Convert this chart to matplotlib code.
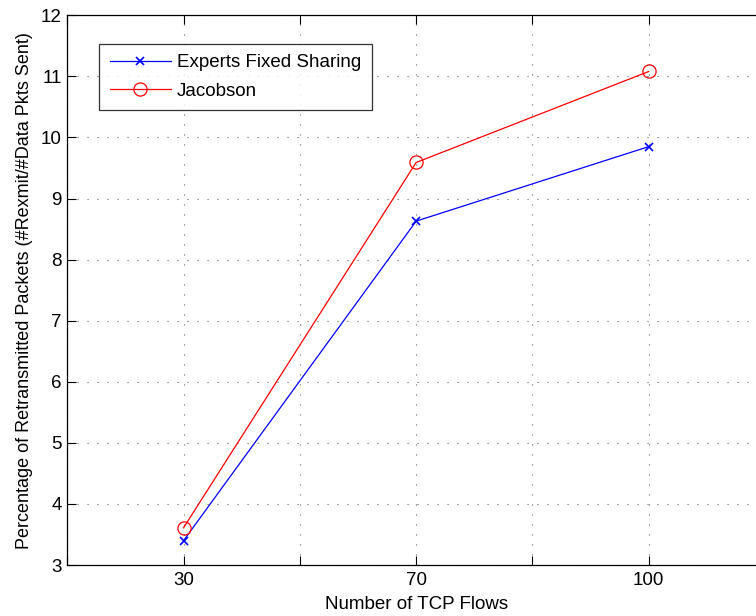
import matplotlib
matplotlib.use("Agg")
import matplotlib.pyplot as plt

plt.rcParams['font.family'] = ['Liberation Sans', 'DejaVu Sans']

positions = [1, 3, 5]
tick_labels = ["30", "70", "100"]
experts = [3.40, 8.63, 9.85]
jacobson = [3.61, 9.59, 11.08]

fig = plt.figure(figsize=(7.56, 6.16), dpi=100)
W, H = 756, 616
left, right, top, bottom = 67.3, 765.0, 15.3, 565.0
ax = fig.add_axes([left / W, (H - bottom) / H, (right - left) / W, (bottom - top) / H])

ax.plot(positions, experts, color=(0, 0, 1), lw=0.9, marker='x', ms=6, mew=1.2,
        label='Experts Fixed Sharing')
ax.plot(positions, jacobson, color=(1, 0, 0), lw=0.9, marker='o', ms=9.5, mfc='none',
        mew=0.9, label='Jacobson')

ax.set_xlim(0, 6)
ax.set_ylim(3, 12)
ax.set_xticks([0, 1, 2, 3, 4, 5, 6])
ax.set_xticklabels(["", tick_labels[0], "", tick_labels[1], "", tick_labels[2], ""])
ax.set_yticks(range(3, 13))

ax.grid(True, linestyle=(0, (1, 8)), color='#666666', lw=0.8)
ax.tick_params(direction='in', length=6.5, width=0.8, top=True, right=True,
               labelsize=13.5, colors='black')
ax.tick_params(axis='x', pad=5)
ax.tick_params(axis='y', pad=4)
for s in ax.spines.values():
    s.set_linewidth(0.9)

ax.set_xlabel('Number of TCP Flows', fontsize=13.5, labelpad=5)
ax.set_ylabel('Percentage of Retransmitted Packets (#Rexmit/#Data Pkts Sent)', fontsize=13,
              labelpad=6)

leg = ax.legend(loc='upper left',
                bbox_to_anchor=((99.3 - left) / (right - left), (bottom - 44) / (bottom - top)),
                fontsize=13.5, frameon=True, fancybox=False, edgecolor='black',
                borderpad=0.55, handlelength=3.25, handletextpad=0.35,
                labelspacing=0.6, borderaxespad=0)
leg.get_frame().set_linewidth(0.9)

fig.savefig('out.png', dpi=100)
